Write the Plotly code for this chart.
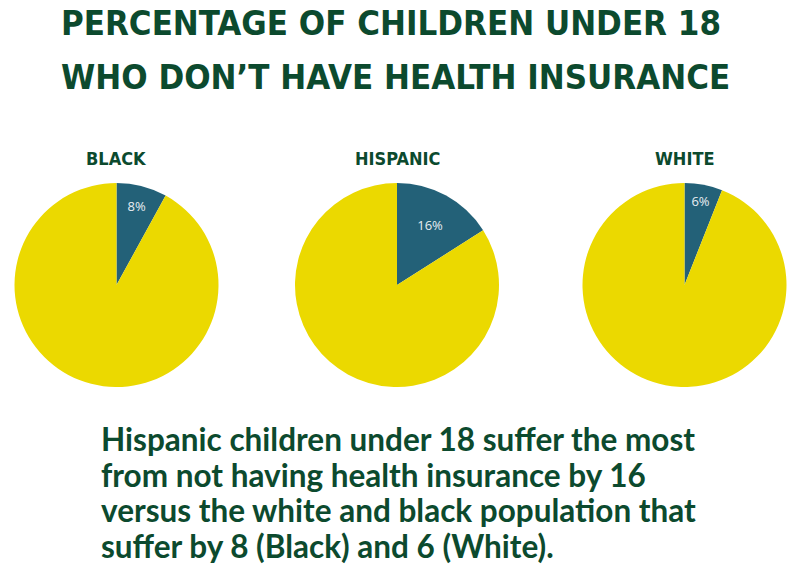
import plotly.graph_objects as go

groups = ["BLACK", "HISPANIC", "WHITE"]
uninsured = [8, 16, 6]
insured = [92, 84, 94]
title_lines = ["PERCENTAGE OF CHILDREN UNDER 18", "WHO DON\u2019T HAVE HEALTH INSURANCE"]
caption_lines = [
    "Hispanic children under 18 suffer the most",
    "from not having health insurance by 16",
    "versus the white and black population that",
    "suffer by 8 (Black) and 6 (White).",
]

W, H = 800, 572
GREEN = "#0c4a2e"
TEAL = "#236178"
YELLOW = "#ebd900"
COND = "DejaVu Sans Condensed, Roboto, sans-serif"

centers_x = [116.5, 397, 684.5]
center_y = 285
radius = 102

fig = go.Figure()
for i, g in enumerate(groups):
    cx = centers_x[i]
    fig.add_trace(go.Pie(
        values=[uninsured[i], insured[i]],
        labels=["Uninsured", "Insured"],
        texttemplate=[f"{uninsured[i]}%", ""],
        textposition="inside",
        insidetextorientation="horizontal",
        textfont=dict(family="Open Sans", size=13, color="#e8eef2"),
        marker=dict(colors=[TEAL, YELLOW], line=dict(width=0)),
        sort=False,
        direction="clockwise",
        rotation=0,
        showlegend=False,
        hoverinfo="label+percent",
        domain=dict(x=[(cx - radius) / W, (cx + radius) / W],
                    y=[(H - center_y - radius) / H, (H - center_y + radius) / H]),
    ))
    fig.add_annotation(text=f"<b>{g}</b>", x=cx / W, y=1 - 158 / H, xref="paper", yref="paper",
                       showarrow=False, xanchor="center", yanchor="middle",
                       font=dict(family=COND, size=18, color=GREEN))

title_y = [22.5, 77]
for j, line in enumerate(title_lines):
    fig.add_annotation(text=f"<b>{line}</b>", x=59 / W, y=1 - title_y[j] / H, xref="paper", yref="paper",
                       showarrow=False, xanchor="left", yanchor="middle",
                       font=dict(family=COND, size=34.5, color=GREEN))

caption_y = [439, 474.5, 510, 545.5]
for j, line in enumerate(caption_lines):
    fig.add_annotation(text=f"<b>{line}</b>", x=99 / W, y=1 - caption_y[j] / H, xref="paper", yref="paper",
                       showarrow=False, xanchor="left", yanchor="middle",
                       font=dict(family="Lato", size=31.5, color=GREEN))

fig.update_layout(width=W, height=H, margin=dict(l=0, r=0, t=0, b=0),
                  paper_bgcolor="white", plot_bgcolor="white")
fig.write_html("out.html", config={"displayModeBar": False},
               post_script="document.body.style.margin='0';document.body.style.overflow='hidden';")
